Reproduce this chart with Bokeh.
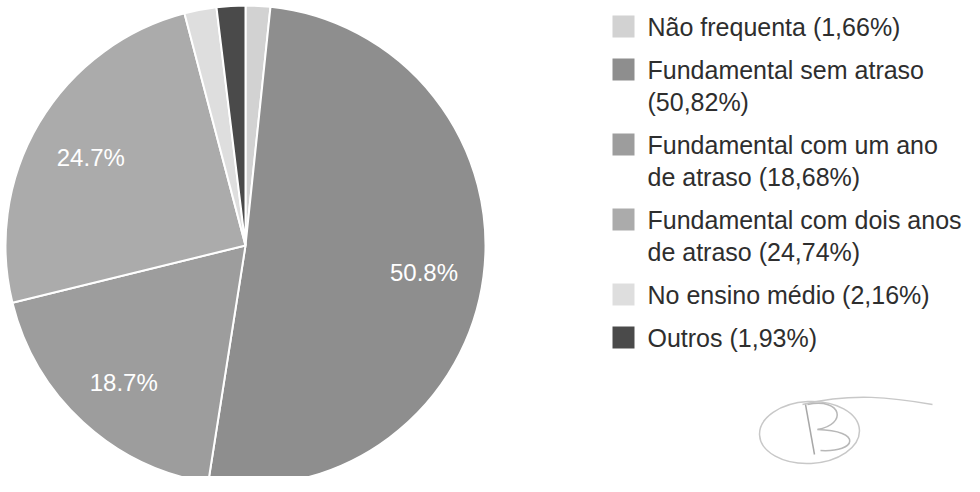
import math
from bokeh.plotting import figure
from bokeh.models import Range1d, ColumnDataSource
from bokeh.core.properties import value
from bokeh.embed import file_html
from bokeh.resources import INLINE

# ---- data ----
categories = [
    "Não frequenta",
    "Fundamental sem atraso",
    "Fundamental com um ano de atraso",
    "Fundamental com dois anos de atraso",
    "No ensino médio",
    "Outros",
]
legend_lines = [
    ["Não frequenta (1,66%)"],
    ["Fundamental sem atraso", "(50,82%)"],
    ["Fundamental com um ano", "de atraso (18,68%)"],
    ["Fundamental com dois anos", "de atraso (24,74%)"],
    ["No ensino médio (2,16%)"],
    ["Outros (1,93%)"],
]
percents = [1.66, 50.82, 18.68, 24.74, 2.16, 1.93]
colors = ["#d2d2d2", "#8e8e8e", "#9d9d9d", "#ababab", "#dedede", "#4a4a4a"]

W, H = 964, 476
# image-like coordinates: x in px, y measured from top of the 492px window
def fy(img_y):
    return 492 - img_y

p = figure(width=W, height=H, output_backend="svg", toolbar_location=None,
           x_range=Range1d(8, 8 + W), y_range=Range1d(492 - 8 - H, 492 - 8),
           min_border=0)
p.axis.visible = False
p.grid.visible = False
p.outline_line_color = None
p.background_fill_color = "white"
p.border_fill_color = "white"

cx, cy, R = 253, fy(253), 240
total = sum(percents)
starts, ends, lx, ly, labels = [], [], [], [], []
cum = 0.0
for v in percents:
    f0 = cum / total
    f1 = (cum + v) / total
    starts.append(math.pi / 2 - 2 * math.pi * f1)
    ends.append(math.pi / 2 - 2 * math.pi * f0)
    mid = (f0 + f1) / 2 * 2 * math.pi
    lx.append(cx + 0.75 * R * math.sin(mid))
    ly.append(cy + 0.75 * R * math.cos(mid) - 4)
    labels.append(f"{v / total * 100:.1f}%" if v / total > 0.05 else "")
    cum += v

src = ColumnDataSource(dict(start=starts, end=ends, color=colors,
                            lx=lx, ly=ly, label=labels))
p.wedge(x=cx, y=cy, radius=R, start_angle="start", end_angle="end",
        direction="anticlock", fill_color="color", line_color="white",
        line_width=2, source=src)
p.text(x="lx", y="ly", text="label", source=src, text_color="white",
       text_font=value("Liberation Sans"), text_font_size="24px",
       text_align="center", text_baseline="middle")

# ---- legend ----
sq_x, txt_x = 631, 655
line_pitch, item_gap = 32, 11
y = 34
sqx, sqy, sqc = [], [], []
tx, ty, tt = [], [], []
for lines, c in zip(legend_lines, colors):
    sqx.append(sq_x); sqy.append(fy(y)); sqc.append(c)
    for i, t in enumerate(lines):
        tx.append(txt_x); ty.append(fy(y + i * line_pitch)); tt.append(t)
    y += len(lines) * line_pitch + item_gap

p.rect(x=sqx, y=sqy, width=22, height=22, fill_color=sqc, line_color=None)
p.text(x=tx, y=ty, text=tt, text_color="#2e2e2e",
       text_font=value("Liberation Sans"), text_font_size="25px",
       text_align="left", text_baseline="middle")

# faint hand-written mark (decoration)
p.ellipse(x=[817], y=[fy(440)], width=[100], height=[62], fill_color=None,
          line_color="#c8c8c8", line_width=1.5, angle=[0.05])
p.bezier(x0=[810], y0=[fy(412)], x1=[940], y1=[fy(412)],
         cx0=[860], cy0=[fy(400)], cx1=[900], cy1=[fy(405)],
         line_color="#c8c8c8", line_width=1.5)
p.segment(x0=[813], y0=[fy(412)], x1=[822], y1=[fy(462)],
          line_color="#a8a8a8", line_width=1.5)
p.bezier(x0=[815], y0=[fy(412)], x1=[825], y1=[fy(437)],
         cx0=[850], cy0=[fy(405)], cx1=[855], cy1=[fy(432)],
         line_color="#b8b8b8", line_width=1.5)
p.bezier(x0=[825], y0=[fy(437)], x1=[828], y1=[fy(458)],
         cx0=[870], cy0=[fy(438)], cx1=[865], cy1=[fy(460)],
         line_color="#b8b8b8", line_width=1.5)

open("out.html", "w").write(file_html(p, INLINE))
